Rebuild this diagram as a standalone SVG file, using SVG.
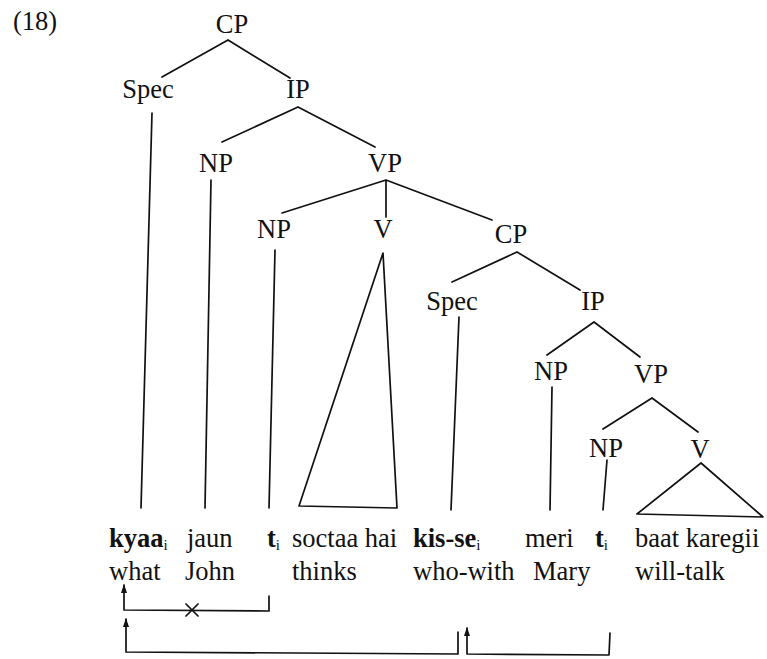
<svg xmlns="http://www.w3.org/2000/svg" width="767" height="659" viewBox="0 0 767 659">
<defs>
<style>
text{font-family:"Liberation Serif","Times New Roman",serif;font-size:26.5px;fill:#111}
.n{text-anchor:middle}
.b{font-weight:bold}
.s{font-size:15px}
.e{stroke:#111;stroke-width:1.7;fill:none;stroke-linecap:round;stroke-linejoin:round}
</style>
<marker id="ah" viewBox="0 0 9 6" refX="8" refY="3" markerWidth="9" markerHeight="6" markerUnits="userSpaceOnUse" orient="auto">
<path d="M0,0 L9,3 L0,6 Z" fill="#111"/>
</marker>
</defs>
<rect width="767" height="659" fill="#fff"/>
<text id="label" x="13" y="30">(18)</text>
<g id="CP1"><text class="n" x="232" y="33">CP</text></g>
<g id="Spec1"><text class="n" x="148" y="98">Spec</text></g>
<g id="IP1"><text class="n" x="298" y="98">IP</text></g>
<g id="NP1"><text class="n" x="216" y="172">NP</text></g>
<g id="VP1"><text class="n" x="385" y="172">VP</text></g>
<g id="NP2"><text class="n" x="274" y="238">NP</text></g>
<g id="V1"><text class="n" x="383" y="238">V</text></g>
<g id="CP2"><text class="n" x="511" y="243">CP</text></g>
<g id="Spec2"><text class="n" x="452" y="310">Spec</text></g>
<g id="IP2"><text class="n" x="593" y="310">IP</text></g>
<g id="NP3"><text class="n" x="551" y="380">NP</text></g>
<g id="VP2"><text class="n" x="651" y="383">VP</text></g>
<g id="NP4"><text class="n" x="606" y="457">NP</text></g>
<g id="V2"><text class="n" x="700" y="458">V</text></g>
<g id="words1">
<text x="109" y="547"><tspan class="b">kyaa</tspan><tspan class="s" dy="3">i</tspan></text>
<text x="187" y="547">jaun</text>
<text x="267" y="547"><tspan class="b">t</tspan><tspan class="s" dy="3">i</tspan></text>
<text x="292" y="547">soctaa hai</text>
<text x="413" y="547"><tspan class="b">kis-se</tspan><tspan class="s" dy="3">i</tspan></text>
<text x="525" y="547">meri</text>
<text x="595" y="547"><tspan class="b">t</tspan><tspan class="s" dy="3">i</tspan></text>
<text x="635" y="547">baat karegii</text>
</g>
<g id="words2">
<text x="109" y="580">what</text>
<text x="185" y="580">John</text>
<text x="292" y="580">thinks</text>
<text x="413" y="580">who-with</text>
<text x="533" y="580">Mary</text>
<text x="635" y="580">will-talk</text>
</g>
<g id="connectors" class="e">
<path d="M228,40 L162,77 M228,40 L290,78"/>
<path d="M152,113 L141,508"/>
<path d="M298,107 L222,142 M298,107 L375,147"/>
<path d="M211,180 L205,508"/>
<path d="M386,180 L282,213 M386,180 L386,217 M386,180 L492,220"/>
<path d="M275,250 L269,508"/>
<path d="M383,253 L299,506 L397,508 Z"/>
<path d="M517,252 L452,282 M517,252 L580,290"/>
<path d="M459,317 L451,510"/>
<path d="M594,322 L547,355 M594,322 L640,357"/>
<path d="M552,387 L550,510"/>
<path d="M652,398 L603,429 M652,398 L698,432"/>
<path d="M607,460 L603,510"/>
<path d="M701,463 L637,514 L763,517 Z"/>
<path d="M269,596 L269,611 L124,610 L124,585" marker-end="url(#ah)"/>
<path d="M186,604 L198,616 M198,604 L186,616"/>
<path d="M458,632 L458,654 L126,652 L126,619" marker-end="url(#ah)"/>
<path d="M610,633 L609,655 L467,654 L467,628" marker-end="url(#ah)"/>
</g>
</svg>
